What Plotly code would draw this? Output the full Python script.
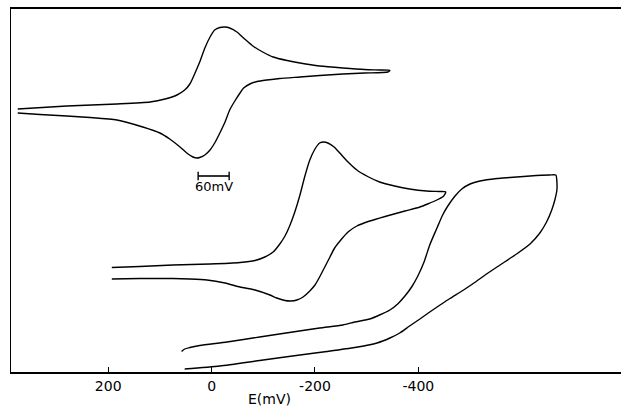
import plotly.graph_objects as go

# ---- data (E in mV, current in arbitrary units) ----
cv1_E = [375, 280, 183, 119, 90, 67, 52, 42, 32, 23, 13, 3, -6, -16, -26, -35, -49, -64, -80, -99,
         -119, -146, -171, -209, -254, -296, -325, -345,
         -341, -296, -254, -209, -171, -132, -107, -88, -74, -62, -55, -45, -35, -26, -16, -6, 3, 13,
         23, 28, 36, 48, 61, 81, 100, 133, 183, 235, 280, 332, 375]
cv1_I = [263, 266, 268, 270, 273, 277, 282, 288, 299, 310, 324, 335, 342, 344.5, 345, 344, 340, 333, 326, 320,
         315, 311.5, 309, 306, 304, 302.5, 302, 301.5,
         300, 299, 298, 296.5, 295, 293.5, 292, 290.5, 288, 284, 279, 271, 262, 250, 239, 229, 222, 217,
         214.5, 214, 215, 219, 225, 233, 239, 245, 252, 254.5, 256, 257.5, 259]

cv2_E = [193, 139, 75, 3, -55, -84, -103, -119, -132, -142, -151, -161, -171, -180, -190, -200, -209, -217,
         -225, -237, -248, -264, -281, -302, -325, -354, -383, -416, -442, -453,
         -449, -436, -418, -403, -374, -339, -306, -281, -264, -250, -238, -229, -219, -209, -200, -190,
         -177, -165, -153, -142, -126, -113, -84, -55, -26, 9, 42, 75, 139, 193]
cv2_I = [104.5, 105.5, 107, 108, 109.5, 111.5, 115, 120, 128, 136, 146, 160, 177, 195, 212, 223, 229, 230,
         229, 225, 219, 210, 202, 195.5, 190, 186, 183, 181, 180.5, 180,
         176, 172, 168, 165, 161, 156, 151, 146, 140, 132, 124, 115, 105, 95, 87, 81,
         75, 72, 71, 71.5, 74, 77, 82, 85, 89, 92, 93, 93.5, 93.5, 93]

cv3_E = [52, -16, -93, -171, -223, -277, -320, -345, -364, -383, -403, -422, -442, -461, -486,
         -509, -532, -558, -590, -616, -635, -648, -658, -664, -668, -668, -666,
         -654, -616, -577, -552, -519, -500, -484, -471, -457, -447, -436, -422, -411, -399, -387,
         -374, -360, -345, -325, -306, -277, -254, -209, -157, -93, -30, 23, 42, 52, 58]
cv3_I = [3, 6, 11.5, 17, 20.5, 24.5, 29, 34, 39, 46, 53, 60, 67, 73.5, 81.5,
         89.5, 98, 107, 118, 128, 139, 150, 162, 172, 182, 190, 197,
         197, 196, 194.5, 193.5, 191, 188, 183, 176, 166, 157, 144, 127, 110, 96, 85,
         76, 68, 62, 57, 53, 50, 47, 44, 40, 35, 30, 26.5, 24.5, 23, 20.5]

tick_vals = [200, 0, -200, -400]
tick_text = ["200", "0", "-200", "-400"]
x_range = [388, -792]
y_range = [0, 363]

scalebar_E = [26, -34]
scalebar_I = 196
scalebar_label = "60mV"
axis_title = "E(mV)"
axis_title_E = -113

fig = go.Figure()
for E, I in [(cv1_E, cv1_I), (cv2_E, cv2_I), (cv3_E, cv3_I)]:
    fig.add_trace(go.Scatter(x=E, y=I, mode="lines", line=dict(color="black", width=1.4, shape="spline", smoothing=0.6),
                             hoverinfo="skip", showlegend=False))

# scale bar
fig.add_trace(go.Scatter(x=scalebar_E, y=[scalebar_I, scalebar_I], mode="lines+markers",
                         line=dict(color="black", width=1.6),
                         marker=dict(symbol="line-ns", size=6, line=dict(color="black", width=1.4)),
                         hoverinfo="skip", showlegend=False))
fig.add_annotation(x=sum(scalebar_E) / 2, y=scalebar_I - 10, xref="x", yref="y", text=scalebar_label,
                   showarrow=False, font=dict(family="DejaVu Sans", size=13, color="black"))
fig.add_annotation(x=axis_title_E, y=-0.075, xref="x", yref="paper", text=axis_title, yanchor="middle",
                   showarrow=False, font=dict(family="DejaVu Sans", size=14, color="black"))

fig.update_layout(
    width=621, height=407,
    margin=dict(l=11, r=0, t=9, b=35),
    paper_bgcolor="white", plot_bgcolor="white",
    xaxis=dict(range=x_range, tickvals=tick_vals, ticktext=tick_text, ticks="inside", ticklen=5,
               tickwidth=1.2, tickcolor="black", showline=True, mirror=True, linecolor="black", linewidth=1.6,
               showgrid=False, zeroline=False, tickfont=dict(family="DejaVu Sans", size=14, color="black")),
    yaxis=dict(range=y_range, showticklabels=False, ticks="", showline=True, linecolor="black", linewidth=1,
               showgrid=False, zeroline=False),
)
fig.write_html("out.html", config={"displayModeBar": False},
               post_script="document.body.style.margin='0';")
